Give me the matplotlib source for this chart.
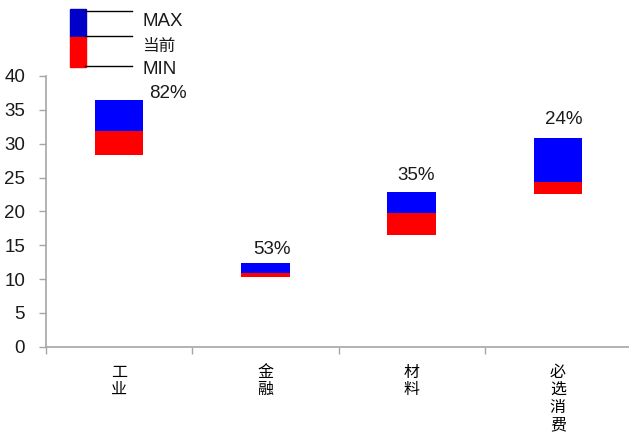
import matplotlib.pyplot as plt
from matplotlib.patches import Rectangle
from matplotlib.lines import Line2D
import numpy as np

plt.rcParams['font.family'] = ['Liberation Sans', 'Noto Sans CJK SC']

# 数据
categories = ['工业', '金融', '材料', '必选消费']
max_vals = [36.5, 12.3, 22.8, 30.9]
cur_vals = [31.9, 10.9, 19.7, 24.4]
min_vals = [28.4, 10.3, 16.5, 22.6]
pct_labels = ['82%', '53%', '35%', '24%']

W, H = 629, 432
fig = plt.figure(figsize=(W / 100, H / 100), dpi=100)
ax = fig.add_axes([46 / W, 1 - 346.7 / H, 585 / W, 270.7 / H])

x = np.arange(len(categories))
ax.bar(x, np.subtract(cur_vals, min_vals), bottom=min_vals, width=0.33,
       color='#FF0000', linewidth=0)
ax.bar(x, np.subtract(max_vals, cur_vals), bottom=cur_vals, width=0.33,
       color='#0000FF', linewidth=0)

# 百分比标签
offsets = [(49, 6), (7, 14), (4, 17), (6, 18)]
for i, lab in enumerate(pct_labels):
    ax.annotate(lab, xy=(x[i], max_vals[i]), xytext=offsets[i],
                textcoords='offset pixels', ha='center', va='center',
                fontsize=13.5, color='#1a1a1a')

ax.set_xlim(-0.5, 3.5)
ax.set_ylim(0, 40)
ax.set_yticks(np.arange(0, 41, 5))
ax.set_xticks(np.arange(-0.5, 4, 1))
ax.set_xticklabels([])
ax.set_xticks(x, minor=True)
ax.set_xticklabels(['\n'.join(c) for c in categories], minor=True,
                   fontsize=11.5, linespacing=1.2, va='top')
ax.tick_params(axis='x', which='minor', length=0, pad=13)
ax.tick_params(axis='x', which='major', length=5, color='#A6A6A6', width=1)
ax.tick_params(axis='y', length=5, color='#A6A6A6', width=1, pad=10,
               labelsize=13.5, labelcolor='#1a1a1a')

for s in ['top', 'right']:
    ax.spines[s].set_visible(False)
for s in ['left', 'bottom']:
    ax.spines[s].set_color('#A6A6A6')
    ax.spines[s].set_linewidth(1.2)


# 图例（手绘）
def fx(px):
    return px / W


def fy(py):
    return 1 - py / H


fig.add_artist(Rectangle((fx(70), fy(37)), fx(16), 28 / H, color='#0000C8',
                         transform=fig.transFigure))
fig.add_artist(Rectangle((fx(70), fy(67)), fx(16), 30 / H, color='#FF0000',
                         transform=fig.transFigure))
for yy in [11, 36, 66]:
    fig.add_artist(Line2D([fx(85), fx(132)], [fy(yy), fy(yy)], color='black',
                          linewidth=1, transform=fig.transFigure))
for txt, yy in [('MAX', 22), ('当前', 46), ('MIN', 70)]:
    fig.text(fx(142), fy(yy), txt, fontsize=13.5 if txt != '当前' else 12,
             va='center', ha='left', color='#1a1a1a')

fig.savefig('out.png', dpi=100)
